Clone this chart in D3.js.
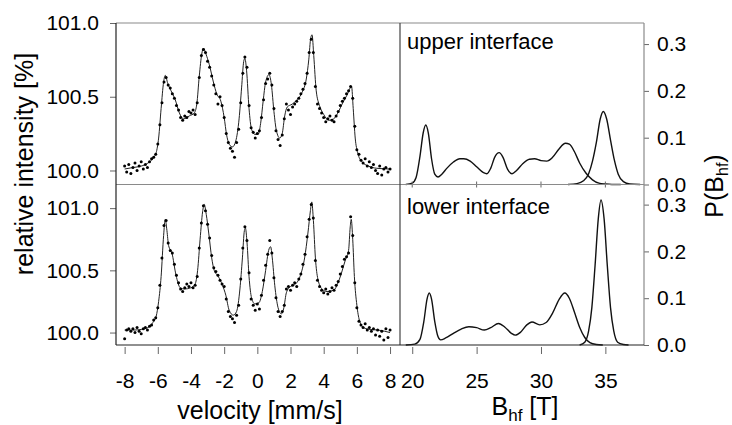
<!DOCTYPE html>
<html>
<head>
<meta charset="utf-8">
<script src="https://cdnjs.cloudflare.com/ajax/libs/d3/7.8.5/d3.min.js"></script>
<style>
  body { margin: 0; background: #fff; }
  svg { display: block; font-family: "Liberation Sans", Arial, sans-serif; }
</style>
</head>
<body>
<svg id="chart" width="732" height="425"></svg>
<script>
// tick values
const velocityTicks = [-8, -6, -4, -2, 0, 2, 4, 6, 8];
const intensityTicks = [100.0, 100.5, 101.0];
const bhfTicks = [20, 25, 30, 35];
const probTicks = [0.0, 0.1, 0.2, 0.3];

// measured spectra: one value per channel, channels from -8 mm/s every 0.125 mm/s
const channelStart = -8, channelStep = 0.125;
const upperDots = [
  100.03, 99.99, 100.04, 99.98, 100.02, 100.05, 100.00, 100.03,
  100.06, 100.01, 100.04, 100.02, 100.06, 100.08, 100.09, 100.11,
  100.18, 100.31, 100.46, 100.60, 100.63, 100.58, 100.56, 100.52,
  100.49, 100.44, 100.41, 100.36, 100.34, 100.37, 100.36, 100.40,
  100.39, 100.41, 100.38, 100.46, 100.63, 100.78, 100.82, 100.80,
  100.74, 100.70, 100.64, 100.58, 100.52, 100.45, 100.50, 100.44,
  100.36, 100.25, 100.19, 100.15, 100.13, 100.09, 100.19, 100.28,
  100.46, 100.66, 100.77, 100.70, 100.44, 100.29, 100.26, 100.22,
  100.25, 100.27, 100.36, 100.48, 100.59, 100.62, 100.66, 100.58,
  100.42, 100.27, 100.21, 100.17, 100.24, 100.35, 100.45, 100.41,
  100.38, 100.43, 100.45, 100.47, 100.49, 100.52, 100.55, 100.59,
  100.66, 100.80, 100.89, 100.80, 100.57, 100.45, 100.42, 100.39,
  100.36, 100.33, 100.35, 100.37, 100.34, 100.33, 100.37, 100.40,
  100.44, 100.47, 100.49, 100.52, 100.54, 100.57, 100.49, 100.30,
  100.14, 100.11, 100.07, 100.05, 100.08, 100.03, 100.06, 100.02,
  100.04, 100.00, 99.98, 100.03, 99.97, 100.01, 100.02, 99.99,
  100.01
];
const lowerDots = [
  99.95, 100.02, 100.03, 100.01, 100.03, 100.00, 100.04, 100.01,
  99.99, 100.03, 100.04, 100.02, 100.05, 100.06, 100.10, 100.12,
  100.20, 100.38, 100.60, 100.86, 100.90, 100.72, 100.66, 100.64,
  100.55, 100.46, 100.40, 100.35, 100.33, 100.36, 100.39, 100.37,
  100.40, 100.36, 100.38, 100.45, 100.68, 100.88, 101.02, 100.98,
  100.87, 100.76, 100.62, 100.52, 100.49, 100.46, 100.42, 100.39,
  100.37, 100.27, 100.17, 100.13, 100.11, 100.08, 100.14, 100.22,
  100.43, 100.68, 100.85, 100.74, 100.48, 100.27, 100.22, 100.18,
  100.23, 100.19, 100.30, 100.42, 100.54, 100.63, 100.74, 100.64,
  100.44, 100.28, 100.17, 100.13, 100.17, 100.22, 100.35, 100.37,
  100.34, 100.38, 100.40, 100.37, 100.43, 100.47, 100.55, 100.63,
  100.77, 100.91, 101.03, 100.92, 100.58, 100.42, 100.37, 100.34,
  100.32, 100.35, 100.31, 100.33, 100.36, 100.34, 100.38, 100.41,
  100.47, 100.53, 100.59, 100.61, 100.64, 100.93, 100.78, 100.40,
  100.20, 100.09, 100.06, 100.04, 100.07, 100.02, 100.04, 100.01,
  100.03, 99.98, 100.02, 99.97, 100.01, 99.94, 100.03, 99.96,
  100.02
];

// fitted curves [velocity, intensity]
const upperFit = [
  [-8, 100.01], [-7.5, 100.02], [-7, 100.03], [-6.6, 100.05], [-6.3, 100.08], [-6.1, 100.12],
  [-5.95, 100.22], [-5.8, 100.42], [-5.65, 100.6], [-5.55, 100.645], [-5.4, 100.59], [-5.2, 100.54],
  [-4.95, 100.48], [-4.7, 100.39], [-4.45, 100.35], [-4.1, 100.37], [-3.8, 100.39], [-3.65, 100.45],
  [-3.5, 100.64], [-3.35, 100.79], [-3.25, 100.83], [-3.1, 100.79], [-2.9, 100.72], [-2.65, 100.6],
  [-2.45, 100.52], [-2.2, 100.47], [-2.0, 100.36], [-1.85, 100.24], [-1.65, 100.17], [-1.5, 100.16],
  [-1.3, 100.2], [-1.1, 100.35], [-0.95, 100.56], [-0.82, 100.74], [-0.75, 100.76], [-0.65, 100.68],
  [-0.5, 100.42], [-0.35, 100.28], [-0.15, 100.245], [0.05, 100.245], [0.2, 100.32], [0.35, 100.47],
  [0.5, 100.6], [0.7, 100.65], [0.85, 100.58], [1.0, 100.4], [1.15, 100.27], [1.35, 100.22],
  [1.5, 100.25], [1.65, 100.37], [1.8, 100.43], [2.1, 100.45], [2.4, 100.48], [2.7, 100.53],
  [2.95, 100.62], [3.1, 100.75], [3.22, 100.9], [3.3, 100.92], [3.4, 100.78], [3.55, 100.54],
  [3.75, 100.44], [4.0, 100.38], [4.3, 100.34], [4.6, 100.35], [4.9, 100.4], [5.15, 100.46],
  [5.4, 100.51], [5.6, 100.56], [5.68, 100.57], [5.78, 100.42], [5.9, 100.22], [6.05, 100.12],
  [6.3, 100.06], [6.7, 100.03], [7.2, 100.015], [8, 100.01]
];
const lowerFit = [
  [-8, 100.02], [-7.5, 100.02], [-7, 100.025], [-6.6, 100.04], [-6.3, 100.08], [-6.1, 100.13],
  [-5.95, 100.25], [-5.8, 100.45], [-5.65, 100.78], [-5.55, 100.91], [-5.45, 100.82], [-5.35, 100.7],
  [-5.15, 100.64], [-4.9, 100.46], [-4.65, 100.36], [-4.4, 100.35], [-4.0, 100.36], [-3.75, 100.39],
  [-3.6, 100.5], [-3.45, 100.75], [-3.3, 100.97], [-3.2, 101.03], [-3.08, 100.95], [-2.93, 100.8],
  [-2.75, 100.6], [-2.6, 100.5], [-2.35, 100.45], [-2.1, 100.38], [-1.9, 100.3], [-1.7, 100.18],
  [-1.45, 100.14], [-1.25, 100.17], [-1.05, 100.35], [-0.9, 100.6], [-0.78, 100.82], [-0.72, 100.84],
  [-0.62, 100.72], [-0.5, 100.45], [-0.35, 100.28], [-0.15, 100.23], [0.1, 100.24], [0.3, 100.33],
  [0.5, 100.5], [0.68, 100.66], [0.8, 100.69], [0.9, 100.6], [1.05, 100.38], [1.25, 100.2],
  [1.45, 100.15], [1.6, 100.2], [1.75, 100.32], [2.0, 100.37], [2.3, 100.39], [2.6, 100.46],
  [2.85, 100.6], [3.05, 100.8], [3.2, 100.98], [3.28, 101.05], [3.38, 100.9], [3.5, 100.6],
  [3.65, 100.43], [3.9, 100.35], [4.2, 100.33], [4.6, 100.34], [4.95, 100.43], [5.3, 100.58],
  [5.5, 100.66], [5.6, 100.85], [5.66, 100.91], [5.75, 100.75], [5.85, 100.45], [6.0, 100.22],
  [6.15, 100.1], [6.4, 100.04], [6.8, 100.025], [7.3, 100.02], [8, 100.0]
];

// hyperfine field distributions [Bhf, P]
const upperDist = [
  [19.5, 0], [20.0, 0.003], [20.3, 0.015], [20.6, 0.06], [20.85, 0.11], [21.05, 0.127], [21.25, 0.11],
  [21.5, 0.055], [21.75, 0.022], [22.0, 0.016], [22.3, 0.022], [22.7, 0.035], [23.2, 0.048],
  [23.7, 0.055], [24.0, 0.055], [24.5, 0.05], [25.0, 0.038], [25.5, 0.026], [25.8, 0.023],
  [26.1, 0.035], [26.4, 0.058], [26.75, 0.068], [27.05, 0.058], [27.4, 0.033], [27.75, 0.023],
  [28.1, 0.03], [28.6, 0.045], [29.1, 0.054], [29.5, 0.055], [30.0, 0.051], [30.45, 0.05],
  [30.9, 0.058], [31.4, 0.076], [31.9, 0.088], [32.2, 0.086], [32.6, 0.07], [33.0, 0.046],
  [33.5, 0.024], [34.0, 0.01], [34.5, 0.003], [35.0, 0.001], [35.5, 0], [36.2, 0]
];
const upperPeak = [
  [32.1, 0], [32.8, 0.002], [33.3, 0.008], [33.7, 0.023], [34.0, 0.05], [34.3, 0.09], [34.6, 0.14],
  [34.84, 0.156], [35.1, 0.14], [35.4, 0.095], [35.7, 0.052], [36.0, 0.022], [36.4, 0.006],
  [36.9, 0.001], [37.7, 0]
];
const lowerDist = [
  [19.5, 0], [20.2, 0.002], [20.6, 0.012], [20.9, 0.05], [21.15, 0.098], [21.32, 0.111], [21.5, 0.098],
  [21.75, 0.05], [22.0, 0.018], [22.2, 0.011], [22.6, 0.015], [23.2, 0.025], [23.8, 0.034],
  [24.4, 0.039], [25.0, 0.037], [25.6, 0.032], [26.1, 0.037], [26.7, 0.046], [27.2, 0.038],
  [27.7, 0.025], [28.0, 0.021], [28.4, 0.027], [28.9, 0.043], [29.3, 0.049], [29.9, 0.043],
  [30.4, 0.048], [30.9, 0.068], [31.4, 0.097], [31.85, 0.111], [32.2, 0.1], [32.6, 0.07],
  [33.0, 0.038], [33.4, 0.016], [33.8, 0.005], [34.3, 0.001], [34.8, 0]
];
const lowerPeak = [
  [33.0, 0], [33.4, 0.006], [33.7, 0.03], [33.95, 0.08], [34.2, 0.17], [34.45, 0.27], [34.66, 0.31],
  [34.9, 0.27], [35.15, 0.17], [35.4, 0.08], [35.65, 0.03], [35.95, 0.006], [36.4, 0.001], [36.8, 0]
];

// layout
const leftX = [116, 400], rightX = [400, 644];
const rows = [[23, 184.5], [184.5, 345]];
const frameGray = '#8a8a8a', axisDark = '#222';

const svg = d3.select('#chart');
const xVel = d3.scaleLinear().domain([-8.52, 8.6]).range(leftX);
const xB = d3.scaleLinear().domain([19.05, 38.0]).range(rightX);

const panels = [
  {dots: upperDots, fit: upperFit, dist: upperDist, peak: upperPeak, iDomain: [99.905, 101.0], pMax: 0.345, label: 'upper interface'},
  {dots: lowerDots, fit: lowerFit, dist: lowerDist, peak: lowerPeak, iDomain: [99.9, 101.19], pMax: 0.343, label: 'lower interface'}
];

function styleAxis(g, size) {
  g.select('.domain').remove();
  g.selectAll('.tick line').attr('stroke', '#666');
  g.selectAll('.tick text').attr('font-size', size).attr('fill', '#000')
    .attr('font-family', '"Liberation Sans", Arial, sans-serif');
}

panels.forEach((p, k) => {
  const [y0, y1] = rows[k];
  const yI = d3.scaleLinear().domain(p.iDomain).range([y1, y0]);
  const yP = d3.scaleLinear().domain([0, p.pMax]).range([y1, y0]);

  // Mössbauer spectrum: fit line + measured points
  svg.append('clipPath').attr('id', 'clipL' + k).append('rect')
    .attr('x', leftX[0]).attr('y', y0).attr('width', leftX[1] - leftX[0]).attr('height', y1 - y0);
  const gL = svg.append('g').attr('clip-path', `url(#clipL${k})`);
  gL.append('path').datum(p.fit)
    .attr('d', d3.line().x(d => xVel(d[0])).y(d => yI(d[1])).curve(d3.curveMonotoneX))
    .attr('fill', 'none').attr('stroke', '#222').attr('stroke-width', 1);
  gL.selectAll('circle').data(p.dots).join('circle')
    .attr('cx', (d, i) => xVel(channelStart + i * channelStep))
    .attr('cy', d => yI(d))
    .attr('r', 1.5).attr('fill', '#000');

  svg.append('g').attr('transform', `translate(${leftX[0]},0)`)
    .call(d3.axisLeft(yI).tickValues(intensityTicks).tickFormat(d3.format('.1f')).tickSize(6).tickPadding(11))
    .call(g => styleAxis(g, 21));

  // field distributions
  const line = d3.line().x(d => xB(d[0])).y(d => yP(d[1])).curve(d3.curveMonotoneX);
  [p.dist, p.peak].forEach(c => {
    svg.append('path').datum(c).attr('d', line)
      .attr('fill', 'none').attr('stroke', '#111').attr('stroke-width', 1.4);
  });

  svg.append('g').attr('transform', `translate(${rightX[1]},0)`)
    .call(d3.axisRight(yP).tickValues(probTicks).tickFormat(d3.format('.1f')).tickSize(5).tickPadding(8))
    .call(g => styleAxis(g, 21));

  svg.append('text').attr('x', rightX[0] + 7).attr('y', y0 + (k ? 29 : 26))
    .attr('font-size', 22).text(p.label);
});

// small ticks on the field axis between the two right panels
svg.append('g').selectAll('line').data(bhfTicks).join('line')
  .attr('x1', d => xB(d)).attr('x2', d => xB(d))
  .attr('y1', 181.5).attr('y2', 187.5).attr('stroke', '#666');

// bottom axes (plain hyphen for negatives, like the original)
svg.append('g').attr('transform', 'translate(0,347)')
  .call(d3.axisBottom(xVel).tickValues(velocityTicks).tickFormat(d => String(d)).tickSize(7).tickPadding(19))
  .call(g => styleAxis(g, 21));
svg.append('g').attr('transform', 'translate(0,347)')
  .call(d3.axisBottom(xB).tickValues(bhfTicks).tickFormat(d => String(d)).tickSize(7).tickPadding(19))
  .call(g => styleAxis(g, 21));

// frames
const frame = [
  [leftX[0], rows[0][0], rightX[1], rows[0][0], frameGray],
  [leftX[0], rows[0][1], rightX[1], rows[0][1], frameGray],
  [rightX[1], rows[0][0], rightX[1], rows[1][1], frameGray],
  [leftX[1], rows[0][0], leftX[1], rows[1][1], '#444'],
  [leftX[0], rows[0][0], leftX[0], rows[1][1], axisDark],
  [leftX[0], rows[1][1], rightX[1], rows[1][1], axisDark]
];
svg.append('g').selectAll('line').data(frame).join('line')
  .attr('x1', d => d[0]).attr('y1', d => d[1]).attr('x2', d => d[2]).attr('y2', d => d[3])
  .attr('stroke', d => d[4]).attr('stroke-width', 1.2);

// axis titles
svg.append('text').attr('transform', 'translate(33,164) rotate(-90)')
  .attr('text-anchor', 'middle').attr('font-size', 25).text('relative intensity [%]');
svg.append('text').attr('x', 260).attr('y', 419)
  .attr('text-anchor', 'middle').attr('font-size', 25).text('velocity [mm/s]');

const bLabel = svg.append('text').attr('x', 525).attr('y', 415)
  .attr('text-anchor', 'middle').attr('font-size', 25);
bLabel.append('tspan').text('B');
bLabel.append('tspan').attr('font-size', 17).attr('dy', 6).text('hf');
bLabel.append('tspan').attr('dy', -6).text(' [T]');

const pLabel = svg.append('text').attr('transform', 'translate(723,186) rotate(-90)')
  .attr('text-anchor', 'middle').attr('font-size', 25);
pLabel.append('tspan').text('P(B');
pLabel.append('tspan').attr('font-size', 16).attr('dy', 5).text('hf');
pLabel.append('tspan').attr('dy', -5).text(')');
</script>
</body>
</html>
